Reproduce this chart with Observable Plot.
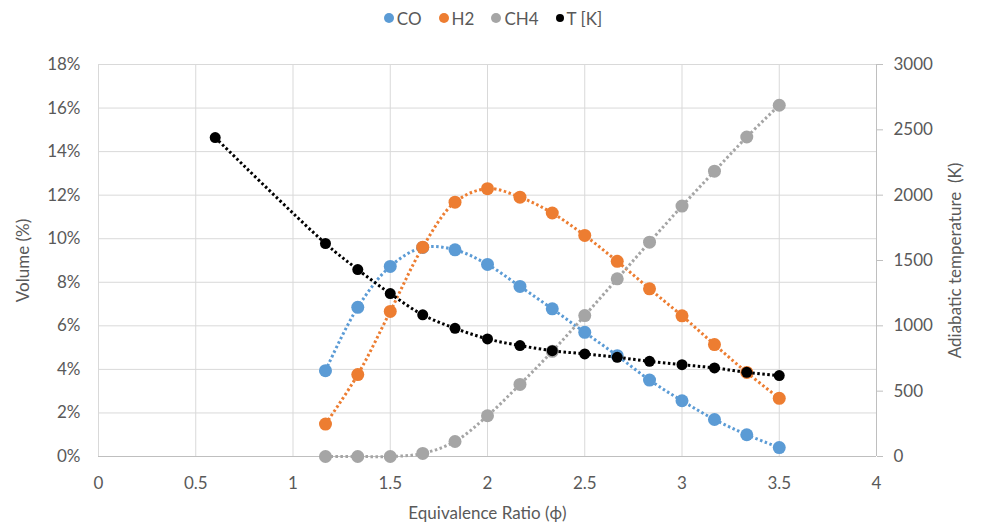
<!DOCTYPE html>
<html><head><meta charset="utf-8">
<script src="https://cdn.jsdelivr.net/npm/d3@7"></script>
<script src="https://cdn.jsdelivr.net/npm/@observablehq/plot@0.6"></script>
<style>
body{margin:0;background:#fff;font-family:Lato,sans-serif;}
#legend{height:36px;display:flex;justify-content:center;align-items:center;gap:17px;font-size:17px;color:#595959;padding-left:5px;box-sizing:border-box;}
#legend .it{display:flex;align-items:center;}
#legend .sw{display:inline-block;border-radius:50%;margin-right:3px;}
</style></head><body>
<div id="legend"></div><div id="chart"></div>
<script>
// Equivalence ratio values
const phi = [1.167,1.333,1.5,1.667,1.833,2.0,2.167,2.333,2.5,2.667,2.833,3.0,3.167,3.333,3.5];
const phiT = [0.6,1.167,1.333,1.5,1.667,1.833,2.0,2.167,2.333,2.5,2.667,2.833,3.0,3.167,3.333,3.5];
// Volume (%)
const CO  = [3.94,6.85,8.73,9.60,9.49,8.82,7.81,6.78,5.70,4.63,3.51,2.56,1.70,1.00,0.41];
const H2  = [1.49,3.76,6.66,9.61,11.68,12.30,11.91,11.18,10.15,8.96,7.70,6.46,5.14,3.86,2.67];
const CH4 = [0,0,0,0.14,0.69,1.87,3.31,4.83,6.47,8.16,9.84,11.50,13.10,14.67,16.13];
// Adiabatic temperature (K)
const TK  = [2441,1630,1431,1247,1084,981,900,849,810,785,759,728,703,678,644,619];

const seriesNames = ["CO","H2","CH4","T [K]"];
const seriesColors = ["#5B9BD5","#ED7D31","#A5A5A5","#000000"];
const xTicks = [0,0.5,1,1.5,2,2.5,3,3.5,4];
const yTicks = [0,2,4,6,8,10,12,14,16,18];
const tTicks = [0,500,1000,1500,2000,2500,3000];
const tMax = 3000, yMax = 18;
const toPct = k => k * yMax / tMax;

const series = [
  {name:"CO", xs:phi, vs:CO},
  {name:"H2", xs:phi, vs:H2},
  {name:"CH4", xs:phi, vs:CH4},
  {name:"T [K]", xs:phiT, vs:TK.map(toPct)}
];

// legend
const lg = document.getElementById("legend");
seriesNames.forEach((n,i)=>{
  const it = document.createElement("span"); it.className="it";
  const sw = document.createElement("span"); sw.className="sw";
  const s = n==="T [K]" ? 8 : 10;
  sw.style.width=s+"px"; sw.style.height=s+"px"; sw.style.background=seriesColors[i];
  it.appendChild(sw); it.appendChild(document.createTextNode(n));
  lg.appendChild(it);
});

const marks = [
  Plot.gridY(yTicks,{stroke:"#d9d9d9",strokeOpacity:1}),
  Plot.gridX(xTicks,{stroke:"#d9d9d9",strokeOpacity:1}),
  Plot.ruleY([0],{stroke:"#bfbfbf"}),
  Plot.ruleX([4],{stroke:"#bfbfbf"}),
  Plot.axisX(xTicks,{tickSize:0,tickPadding:20,tickFormat:d=>String(d),label:"Equivalence Ratio (\u03D5)",labelAnchor:"center",labelArrow:"none",labelOffset:62}),
  Plot.axisY(yTicks,{anchor:"left",tickSize:0,tickPadding:18,tickFormat:d=>d+"%",label:"Volume (%)",labelAnchor:"center",labelArrow:"none",labelOffset:82}),
  Plot.axisY(tTicks.map(toPct),{anchor:"right",tickSize:6,stroke:"#bfbfbf",tickPadding:11,tickFormat:d=>String(Math.round(d*tMax/yMax)),label:"Adiabatic temperature\u00a0 (K)",labelAnchor:"center",labelArrow:"none",labelOffset:84})
];
series.forEach((s,i)=>{
  const data = s.xs.map((x,j)=>({phi:x, v:s.vs[j]}));
  marks.push(Plot.line(data,{x:"phi",y:"v",stroke:seriesColors[i],strokeWidth:3,strokeDasharray:"2.5,2.5",strokeLinecap:"butt",curve:"catmull-rom"}));
  marks.push(Plot.dot(data,{x:"phi",y:"v",fill:seriesColors[i],r:s.name==="T [K]"?5.5:6.5}));
});

const chart = Plot.plot({
  width:981, height:492,
  marginTop:28, marginBottom:72, marginLeft:98, marginRight:105,
  x:{domain:[0,4]},
  y:{domain:[0,18]},
  style:{fontSize:"17px",fontFamily:"Lato, sans-serif",color:"#595959",background:"#fff"},
  marks
});
document.getElementById("chart").appendChild(chart);
</script></body></html>
